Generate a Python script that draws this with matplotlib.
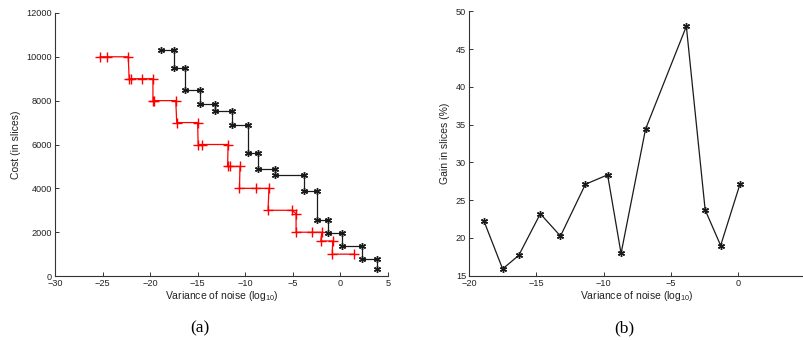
import matplotlib
matplotlib.use("Agg")
import matplotlib.pyplot as plt

plt.rcParams['font.family'] = ['Liberation Sans', 'DejaVu Sans']
plt.rcParams['mathtext.fontset'] = 'custom'
plt.rcParams['mathtext.rm'] = 'Liberation Sans'

# Noise variance levels (log10) shared by both panels
noise_levels = [-18.9, -17.5, -16.3, -14.7, -13.2, -11.35, -9.7, -8.7,
                -6.88, -3.85, -2.45, -1.3, 0.14, 2.3, 3.85]
# Cost of the reference method at each step (slices)
black_cost = [10300, 9500, 8500, 7850, 7550, 6870, 5600, 4880,
              4600, 3880, 2580, 1980, 1370, 780, 330]

# Cost path of the proposed method (vertices of the staircase)
red_noise = [-25.25, -24.55, -22.3, -22.2, -22.0, -20.8, -19.7, -19.7,
             -19.55, -17.3, -17.2, -15.0, -14.95, -14.5, -11.8, -11.85,
             -11.6, -10.55, -10.6, -8.85, -7.5, -7.6, -5.1, -4.65, -4.65,
             -3.0, -1.95, -2.05, -0.8, -0.85, 1.45]
red_cost = [10000, 10000, 10000, 9000, 9000, 9000, 9000, 8000,
            8000, 8000, 7000, 7000, 6000, 6000, 6000, 5000,
            5000, 5000, 4000, 4000, 4000, 3000, 3000, 2850, 2000,
            2000, 2000, 1600, 1600, 1000, 1000]

# Gain in slices (%) for the first noise levels
gain = [22.3, 15.9, 17.7, 23.2, 20.25, 27.1, 28.35, 17.95,
        34.4, 48.0, 23.7, 19.0, 27.15]

xlim_a = (-30, 5)
xticks_a = [-30, -25, -20, -15, -10, -5, 0, 5]
yticks_a = [0, 2000, 4000, 6000, 8000, 10000, 12000]
xlim_b = (-20, 5)
xticks_b = [-20, -15, -10, -5, 0, 5]
yticks_b = [15, 20, 25, 30, 35, 40, 45, 50]

# Build the step path: (x0,c0)->(x1,c0)->(x1,c1)->...
step_x, step_y = [noise_levels[0]], [black_cost[0]]
for i in range(1, len(noise_levels)):
    step_x += [noise_levels[i], noise_levels[i]]
    step_y += [black_cost[i - 1], black_cost[i]]

fig = plt.figure(figsize=(8.04, 3.40), dpi=100)
ax1 = fig.add_axes([0.0684, 0.188, 0.414, 0.774])
ax2 = fig.add_axes([0.5833, 0.189, 0.4185, 0.778])

txt = '#222222'
asterisk = (6, 2, 0)


def style(ax):
    for s in ('top', 'right'):
        ax.spines[s].set_visible(False)
    for s in ('left', 'bottom'):
        ax.spines[s].set_linewidth(0.8)
        ax.spines[s].set_color('#333333')
    ax.tick_params(direction='in', length=3, width=0.7, labelsize=6.6,
                   colors='#333333', labelcolor=txt, pad=2)


def minus_labels(ticks):
    return ['\u2212' + str(-t) if t < 0 else str(t) for t in ticks]


ax1.plot(step_x, step_y, color='#1a1a1a', lw=0.9, marker=asterisk,
         markersize=5, markeredgewidth=1.0, zorder=3)
ax1.plot(red_noise, red_cost, color='red', lw=0.9, marker='+',
         markersize=6.5, markeredgewidth=1.0, zorder=2)
ax1.set_xlim(*xlim_a)
ax1.set_ylim(0, 12000)
ax1.set_xticks(xticks_a)
ax1.set_yticks(yticks_a)
ax1.set_xticklabels(minus_labels(xticks_a))
ax1.set_xlabel('Variance of noise (log$_{10}$)', fontsize=7.5, color=txt, labelpad=1)
ax1.set_ylabel('Cost (in slices)', fontsize=7.5, color=txt, labelpad=4)
style(ax1)

ax2.plot(noise_levels[:len(gain)], gain, color='#1a1a1a', lw=0.9,
         marker=asterisk, markersize=5, markeredgewidth=1.0)
ax2.set_xlim(*xlim_b)
ax2.set_ylim(15, 50)
ax2.set_xticks(xticks_b)
ax2.set_yticks(yticks_b)
ax2.set_xticklabels(minus_labels(xticks_b))
ax2.set_xlabel('Variance of noise (log$_{10}$)', fontsize=7.5, color=txt, labelpad=1)
ax2.set_ylabel('Gain in slices (%)', fontsize=7.5, color=txt, labelpad=4)
style(ax2)

fig.text(0.249, 0.035, '(a)', family='Liberation Serif', fontsize=12.5,
         ha='center', va='center', color='black')
fig.text(0.776, 0.035, '(b)', family='Liberation Serif', fontsize=12.5,
         ha='center', va='center', color='black')

fig.savefig('out.png', dpi=100)
